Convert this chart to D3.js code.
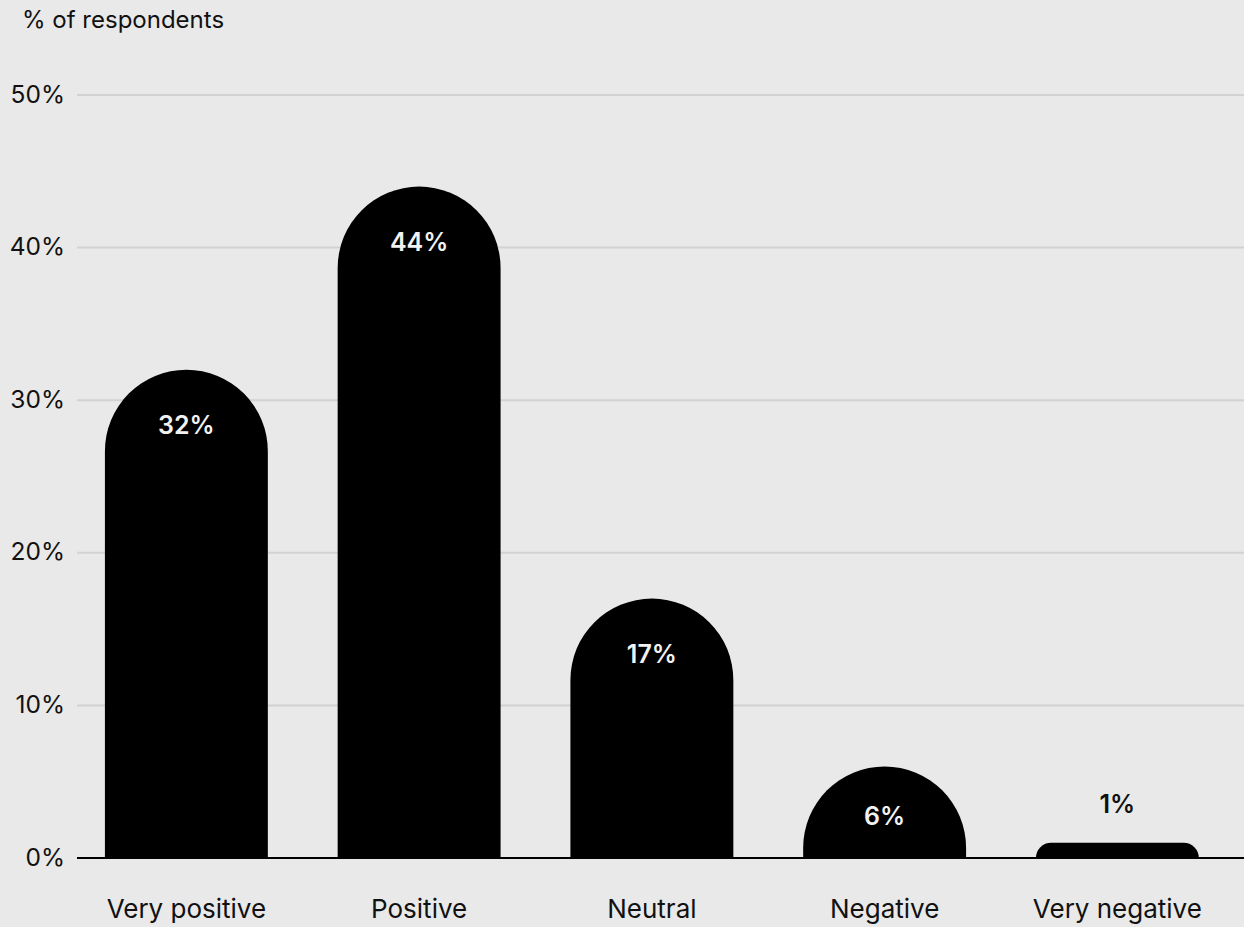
<!DOCTYPE html>
<html><head><meta charset="utf-8">
<script src="https://cdn.jsdelivr.net/npm/d3@7"></script>
<style>
html,body{margin:0;padding:0;background:#e9e9e9;}
svg{display:block;font-family:Inter, "Noto Sans", sans-serif;}
</style></head>
<body><svg id="c" width="1244" height="927"></svg>
<script>
const categories = ["Very positive","Positive","Neutral","Negative","Very negative"];
const values = [32,44,17,6,1];
const valueLabels = ["32%","44%","17%","6%","1%"];
const tickValues = [0,10,20,30,40,50];
const yTitle = "% of respondents";

const svg = d3.select("#c");
svg.append("rect").attr("width",1244).attr("height",927).attr("fill","#e9e9e9");
const y = d3.scaleLinear().domain([0,50]).range([858,95]);
const x = d3.scaleBand().domain(categories).range([70,1233.75]).paddingInner(0.3).paddingOuter(0.15);

// gridlines
svg.append("g").selectAll("line").data(tickValues.filter(t=>t>0)).join("line")
  .attr("x1",77).attr("x2",1244).attr("y1",d=>y(d)).attr("y2",d=>y(d))
  .attr("stroke","#d2d2d2").attr("stroke-width",2);

// y tick labels
svg.append("g").selectAll("text").data(tickValues).join("text")
  .attr("x",65).attr("y",d=>y(d)+7.5).attr("text-anchor","end")
  .attr("font-size",24.5).attr("fill","#111").text(d=>d+"%");

svg.append("text").attr("x",22).attr("y",28).attr("font-size",24).attr("fill","#111").text(yTitle);

// bars
const data = categories.map((c,i)=>({c,v:values[i],l:valueLabels[i]}));
function barPath(d){
  const x0=x(d.c), x1=x0+x.bandwidth(), y0=y(0), yt=y(d.v);
  const h=y0-yt, r=Math.min(x.bandwidth()/2,h);
  return `M${x0},${y0}L${x0},${yt+r}A${r},${r} 0 0 1 ${x0+r},${yt}L${x1-r},${yt}A${r},${r} 0 0 1 ${x1},${yt+r}L${x1},${y0}Z`;
}
svg.append("g").selectAll("path").data(data).join("path").attr("d",barPath).attr("fill","#000");

// baseline
svg.append("line").attr("x1",77).attr("x2",1244).attr("y1",y(0)).attr("y2",y(0)).attr("stroke","#000").attr("stroke-width",2);

// value labels
svg.append("g").selectAll("text").data(data).join("text")
  .attr("x",d=>x(d.c)+x.bandwidth()/2)
  .attr("y",d=>{const h=y(0)-y(d.v); return h>40 ? y(d.v)+Math.min(64,h-33) : y(d.v)-30;})
  .attr("text-anchor","middle").attr("font-size",25).attr("font-weight",600)
  .attr("fill",d=>(y(0)-y(d.v))>40?"#f2f2f2":"#111").text(d=>d.l);

// category labels
svg.append("g").selectAll("text").data(data).join("text")
  .attr("x",d=>x(d.c)+x.bandwidth()/2).attr("y",918)
  .attr("text-anchor","middle").attr("font-size",26).attr("fill","#111").text(d=>d.c);
</script></body></html>
